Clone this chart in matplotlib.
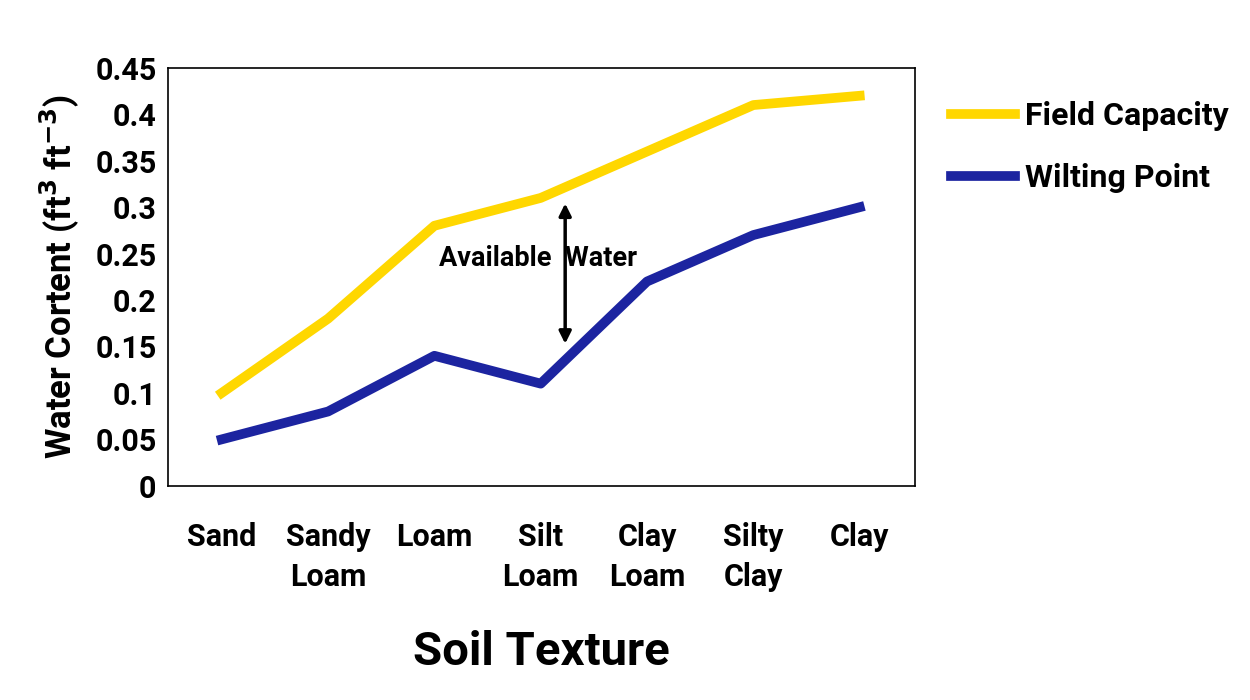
import matplotlib
matplotlib.use("Agg")
import matplotlib.pyplot as plt
import numpy as np

plt.rcParams["font.family"] = ["Roboto", "DejaVu Sans"]
plt.rcParams["font.weight"] = "bold"

soils = ["Sand", "Sandy\nLoam", "Loam", "Silt\nLoam", "Clay\nLoam", "Silty\nClay", "Clay"]
field_capacity = [0.10, 0.18, 0.28, 0.31, 0.36, 0.41, 0.42]
wilting_point = [0.05, 0.08, 0.14, 0.11, 0.22, 0.27, 0.30]
yticks = [0, 0.05, 0.1, 0.15, 0.2, 0.25, 0.3, 0.35, 0.4, 0.45]
ytick_labels = ["0", "0.05", "0.1", "0.15", "0.2", "0.25", "0.3", "0.35", "0.4", "0.45"]

fig = plt.figure(figsize=(12.5, 7), dpi=100)
ax = fig.add_axes([0.134, 0.306, 0.598, 0.597])
x = np.arange(len(soils))
ax.plot(x, field_capacity, color="#FFD700", lw=7, label="Field Capacity")
ax.plot(x, wilting_point, color="#1C24A0", lw=7, label="Wilting Point")

ax.set_xlim(-0.51, 6.52)
ax.set_ylim(0, 0.45)
ax.set_yticks(yticks)
ax.set_yticklabels(ytick_labels, fontsize=22, fontweight="bold")
ax.set_xticks(x)
ax.set_xticklabels(soils, fontsize=22, fontweight="bold", linespacing=1.4)
ax.tick_params(axis="both", length=0, pad=8)
ax.tick_params(axis="x", pad=26)
for s in ax.spines.values():
    s.set_linewidth(1.2)

ax.set_ylabel("Water Cortent (ft$^{\\mathbf{3}}$ ft$^{\\mathbf{-3}}$)", fontsize=25,
              fontweight="bold", labelpad=10)
ax.set_xlabel("Soil Texture", fontsize=34, fontweight="bold", labelpad=28)

ax.annotate("", xy=(3.23, 0.307), xytext=(3.23, 0.15),
            arrowprops=dict(arrowstyle="<|-|>", color="black", lw=2.5,
                            mutation_scale=18))
ax.text(2.97, 0.245, "Available  Water", fontsize=19.5, fontweight="bold",
        ha="center", va="center")

ax.legend(loc="upper left", bbox_to_anchor=(1.01, 0.99), frameon=False,
          handlelength=2.0, handletextpad=0.3, labelspacing=1.0,
          prop={"weight": "bold", "size": 23})

fig.savefig("out.png", dpi=100)
